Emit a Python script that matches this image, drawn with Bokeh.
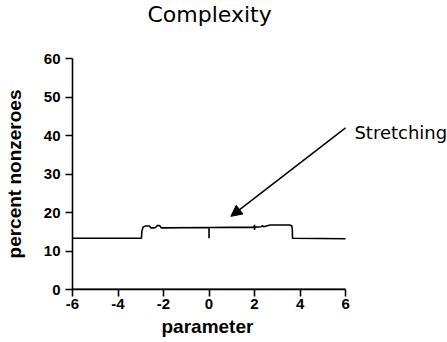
from bokeh.plotting import figure
from bokeh.models import Label, Arrow, NormalHead, FixedTicker, Range1d, Title
from bokeh.embed import file_html
from bokeh.resources import INLINE

title_text = "Complexity"
x_label = "parameter"
y_label = "percent nonzeroes"
annotation_text = "Stretching"

x_ticks = [-6, -4, -2, 0, 2, 4, 6]
x_tick_labels = ["-6", "-4", "-2", "0", "2", "4", "6"]
y_ticks = [0, 10, 20, 30, 40, 50, 60]

complexity_x = [-6.0, -2.97, -2.95, -2.9, -2.8, -2.62, -2.55, -2.45, -2.35, -2.28,
                -2.17, -2.1, 0.0, 0.0, 0.0, 1.98, 2.0, 2.0, 2.02, 2.3, 2.35, 2.4,
                2.6, 2.7, 3.55, 3.64, 3.66, 3.67, 6.0]
complexity_y = [13.3, 13.3, 15.2, 16.2, 16.5, 16.5, 16.0, 16.0, 16.1, 16.6,
                16.6, 16.0, 16.1, 13.3, 16.1, 16.2, 16.8, 15.5, 16.2, 16.3, 16.6, 16.3,
                16.6, 16.75, 16.75, 16.5, 15.5, 13.3, 13.2]

zero_x = [-6.0, 6.0]
zero_y = [0.0, 0.0]

arrow_start_x, arrow_start_y = 6.0, 42.0
arrow_end_x, arrow_end_y = 0.96, 19.0
label_x, label_y = 6.39, 40.8

p = figure(width=447, height=342, x_range=Range1d(-6, 10.48), y_range=Range1d(0, 60),
           output_backend="svg", toolbar_location=None,
           min_border_left=68, min_border_right=0, min_border_top=58, min_border_bottom=53)

p.line(complexity_x, complexity_y, line_color="black", line_width=1.6)
p.line(zero_x, zero_y, line_color="black", line_width=2)

p.add_layout(Arrow(end=NormalHead(size=11, fill_color="black", line_color="black"),
                   x_start=arrow_start_x, y_start=arrow_start_y,
                   x_end=arrow_end_x, y_end=arrow_end_y,
                   line_color="black", line_width=1.5))
p.add_layout(Label(x=label_x, y=label_y, text=annotation_text,
                   text_font="DejaVu Sans", text_font_size="18px",
                   text_baseline="alphabetic", text_align="left", text_color="black"))

# spacer between frame and title, then the title itself
p.add_layout(Title(text=" ", text_font_size="1px", standoff=27), "above")
p.add_layout(Title(text=title_text, align="left", offset=75, vertical_align="top",
                   standoff=0, text_font="DejaVu Sans", text_font_size="22px",
                   text_font_style="normal", text_color="black"), "above")
p.add_layout(Title(text=x_label, align="left", offset=89, vertical_align="bottom",
                   standoff=4, text_font="Liberation Sans", text_font_size="19px",
                   text_font_style="bold", text_color="black"), "below")

p.xgrid.visible = False
p.ygrid.visible = False
p.outline_line_color = None

p.xaxis.ticker = FixedTicker(ticks=x_ticks)
p.xaxis.major_label_overrides = dict(zip(x_ticks, x_tick_labels))
p.yaxis.ticker = FixedTicker(ticks=y_ticks)
p.xaxis.bounds = (-6, 6)
for ax in (p.xaxis, p.yaxis):
    ax.major_tick_out = 7
    ax.major_tick_in = 0
    ax.minor_tick_out = 0
    ax.minor_tick_in = 0
    ax.axis_line_width = 1.6
    ax.major_tick_line_width = 1.6
    ax.axis_line_color = "black"
    ax.major_tick_line_color = "black"
    ax.major_label_text_font = "Liberation Sans"
    ax.major_label_text_font_style = "bold"
    ax.major_label_text_font_size = "15px"
    ax.major_label_text_color = "black"
    ax.axis_label_text_font = "Liberation Sans"
    ax.axis_label_text_font_style = "bold"
    ax.axis_label_text_font_size = "19px"
    ax.axis_label_text_color = "black"

p.yaxis.axis_label = y_label
p.xaxis.major_label_standoff = 2
p.yaxis.major_label_standoff = 5
p.yaxis.axis_label_standoff = 16

open("out.html", "w").write(file_html(p, INLINE))
